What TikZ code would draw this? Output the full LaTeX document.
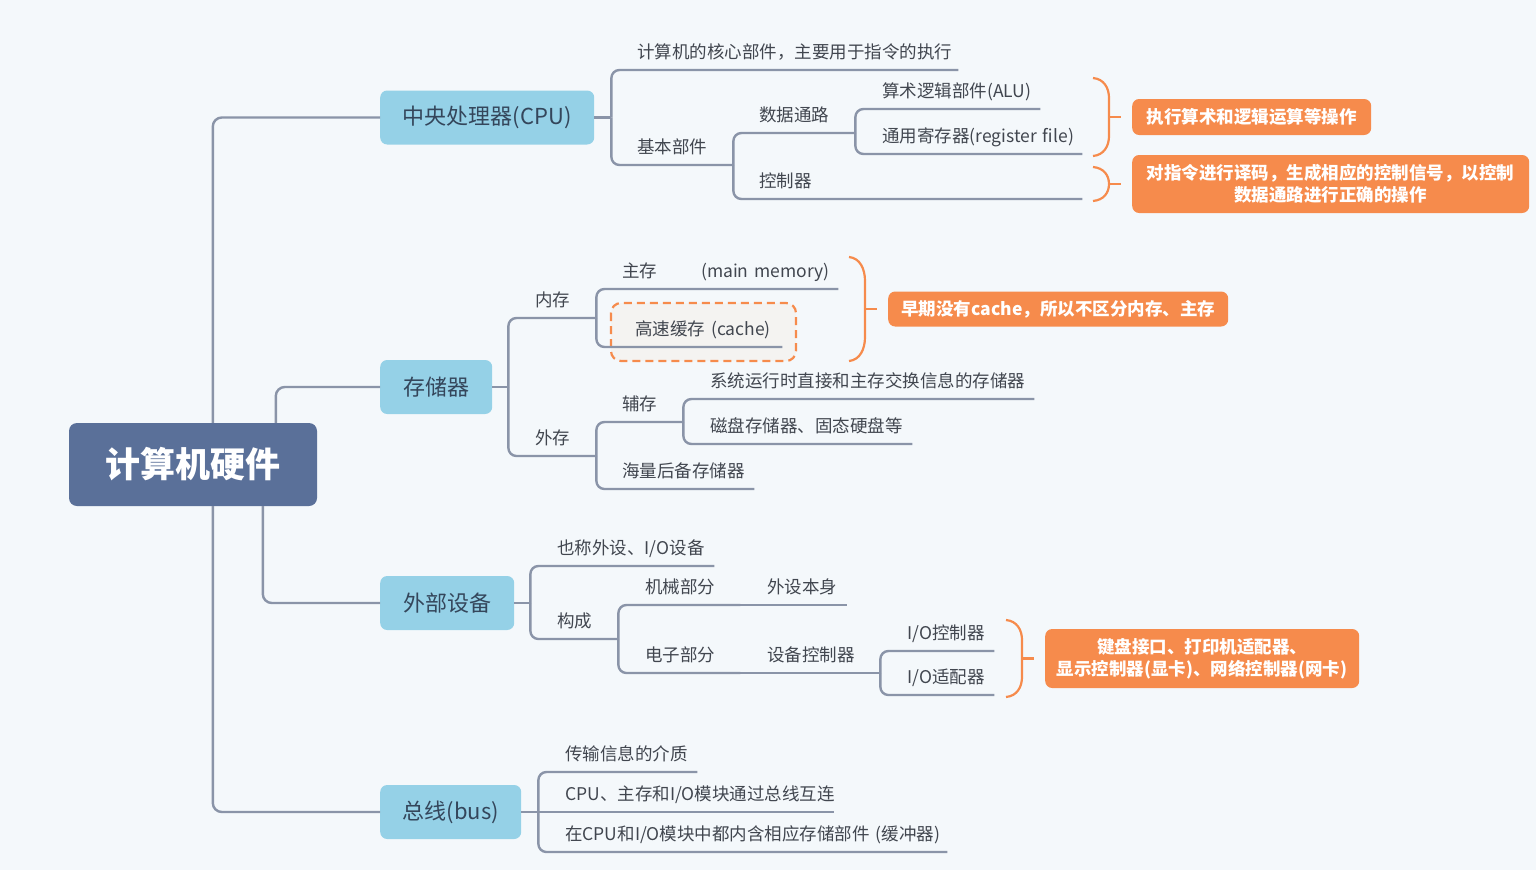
\documentclass[tikz,border=0pt]{standalone}
\usepackage{fontspec}
\setmainfont{Noto Sans CJK SC}

\definecolor{bgc}{HTML}{F4F8FB}
\definecolor{linec}{HTML}{8A94A8}
\definecolor{txtc}{HTML}{41464F}
\definecolor{topictxt}{HTML}{34465B}
\definecolor{topicc}{HTML}{95D1E7}
\definecolor{rootc}{HTML}{5A7099}
\definecolor{sumc}{HTML}{F68B4C}
\definecolor{cachec}{HTML}{F4F3F1}

\tikzset{
  conn/.style={draw=linec, line width=2.4pt, rounded corners=8pt},
  leaf/.style={anchor=south west, inner xsep=0pt, inner ysep=0pt, text width=#1,
    align=left, text height=15pt, text depth=11pt,
    font=\fontsize{17.5}{21}\selectfont, text=txtc},
  topic/.style={anchor=west, fill=topicc, rounded corners=7pt, minimum height=54pt,
    minimum width=#1, inner sep=0pt, font=\fontsize{22}{26}\selectfont, text=topictxt},
  rootbox/.style={fill=rootc, rounded corners=8pt, minimum width=248pt, minimum height=83pt,
    inner sep=0pt, font=\bfseries\fontsize{35}{40}\selectfont, text=white},
  summary/.style n args={2}{anchor=west, fill=sumc, rounded corners=7pt, minimum width=#1,
    minimum height=#2, inner sep=0pt, align=center, text=white,
    font=\bfseries\fontsize{17.5}{22}\selectfont},
  brace/.style={draw=sumc, line width=2.2pt},
  cachebox/.style={draw=sumc, fill=cachec, line width=2.2pt, dash pattern=on 8pt off 5pt,
    rounded corners=10pt},
}

% #1 x of the ends, #2 top, #3 bottom, #4 curve length, #5 summary node
\newcommand{\sumbrace}[5]{%
  \draw[brace] (#1,#2) .. controls (#1+11,#2+1) and (#1+16,{#2+0.5*#4}) .. (#1+16,#2+#4)
    -- (#1+16,#3-#4) .. controls (#1+16,{#3-0.5*#4}) and (#1+11,#3-1) .. (#1,#3);
  \draw[brace] (#1+16,{(#2+#3)/2}) -- ([xshift=-11pt]#5.west);
}

\begin{document}
\begin{tikzpicture}[x=1pt, y=-1pt]
\fill[bgc] (0,0) rectangle (1536,870);
\draw[cachebox] (611,303) rectangle (796,361);

\node[rootbox] (root) at (193,464.5) {计算机硬件};
\node[topic=214pt] (cpu) at (380,117.5) {中央处理器(CPU)};
\node[topic=112pt] (mem) at (380,387) {存储器};
\node[topic=134pt] (per) at (380,603) {外部设备};
\node[topic=141pt] (bus) at (380,812) {总线(bus)};

\draw[conn, rounded corners=9pt] ([xshift=144pt]root.north west) |- (cpu.west);
\draw[conn, rounded corners=9pt] ([xshift=207pt]root.north west) |- (mem.west);
\draw[conn, rounded corners=9pt] ([xshift=194pt]root.south west) |- (per.west);
\draw[conn, rounded corners=9pt] ([xshift=144pt]root.south west) |- (bus.west);

% CPU
\node[leaf=321pt] (cpuA) at (637,70) {计算机的核心部件，主要用于指令的执行};
\node[leaf=96pt] (cpuB) at (637,165) {基本部件};
\node[leaf=96pt] (dp) at (759,133) {数据通路};
\node[leaf=158pt] (alu) at (882,109) {算术逻辑部件(ALU)};
\node[leaf=200pt] (reg) at (882,154) {通用寄存器(register~file)};
\node[leaf=323pt] (ctl) at (759,199) {控制器};
\draw[conn] (cpu.east) -- ++(17,0) coordinate (cpuJ);
\foreach \c in {cpuA,cpuB} \draw[conn] (cpuJ) |- (\c.south east);
\foreach \c in {dp,ctl} \draw[conn] (cpuB.south east) |- (\c.south east);
\foreach \c in {alu,reg} \draw[conn] (dp.south east) |- (\c.south east);

% memory
\node[leaf=61pt] (inmem) at (535,318) {内存};
\node[leaf=61pt] (exmem) at (535,456) {外存};
\node[leaf=216pt] (mainm) at (622,289) {主存\hspace{44pt}(main~memory)};
\node[leaf=147pt] (cache) at (635,347) {高速缓存\hspace{6pt}(cache)};
\node[leaf=61pt] (aux) at (622,422) {辅存};
\node[leaf=324pt] (sysm) at (710,399) {系统运行时直接和主存交换信息的存储器};
\node[leaf=202pt] (disk) at (710,444) {磁盘存储器、固态硬盘等};
\node[leaf=132pt] (mass) at (622,489) {海量后备存储器};
\draw[conn] (mem.east) -- ++(16,0) coordinate (memJ);
\foreach \c in {inmem,exmem} \draw[conn] (memJ) |- (\c.south east);
\foreach \c in {mainm,cache} \draw[conn] (inmem.south east) |- (\c.south east);
\foreach \c in {aux,mass} \draw[conn] (exmem.south east) |- (\c.south east);
\foreach \c in {sysm,disk} \draw[conn] (aux.south east) |- (\c.south east);

% peripherals
\node[leaf=157pt] (ioA) at (557,566) {也称外设、I/O设备};
\node[leaf=61pt] (comp) at (557,639) {构成};
\node[leaf=95pt] (mech) at (645,605) {机械部分};
\node[leaf=80pt] (mechB) at (767,605) {外设本身};
\node[leaf=95pt] (elec) at (645,673) {电子部分};
\node[leaf=113pt] (devc) at (767,673) {设备控制器};
\node[leaf=87pt] (ioc) at (907,651) {I/O控制器};
\node[leaf=87pt] (ioad) at (907,695) {I/O适配器};
\draw[conn] (per.east) -- ++(16,0) coordinate (perJ);
\foreach \c in {ioA,comp} \draw[conn] (perJ) |- (\c.south east);
\foreach \c in {mech,elec} \draw[conn] (comp.south east) |- (\c.south east);
\draw[conn] (mech.south east) -- (mechB.south east);
\draw[conn] (elec.south east) -- (devc.south east);
\foreach \c in {ioc,ioad} \draw[conn] (devc.south east) |- (\c.south east);

% bus
\node[leaf=132pt] (busA) at (565,772) {传输信息的介质};
\node[leaf=269pt] (busB) at (565,812) {CPU、主存和I/O模块通过总线互连};
\node[leaf=382pt] (busC) at (565,852) {在CPU和I/O模块中都内含相应存储部件~(缓冲器)};
\draw[conn] (bus.east) -- ++(17,0) coordinate (busJ);
\foreach \c in {busA,busC} \draw[conn] (busJ) |- (\c.south east);
\draw[conn] (busJ) -- (busB.south east);

% summaries
\node[summary={239pt}{36pt}] (sum1) at (1132,117) {执行算术和逻辑运算等操作};
\node[summary={397pt}{58pt}] (sum2) at (1132,184) {对指令进行译码，生成相应的控制信号，以控制\\数据通路进行正确的操作};
\node[summary={340pt}{35pt}] (sum3) at (888,309) {早期没有cache，所以不区分内存、主存};
\node[summary={314pt}{59pt}] (sum4) at (1045,658.5) {键盘接口、打印机适配器、\\显示控制器(显卡)、网络控制器(网卡)};
\sumbrace{1093}{78}{156}{20}{sum1}
\sumbrace{1093}{167}{201}{17}{sum2}
\sumbrace{849}{257}{361}{24}{sum3}
\sumbrace{1006}{620}{697}{20}{sum4}
\end{tikzpicture}
\end{document}
